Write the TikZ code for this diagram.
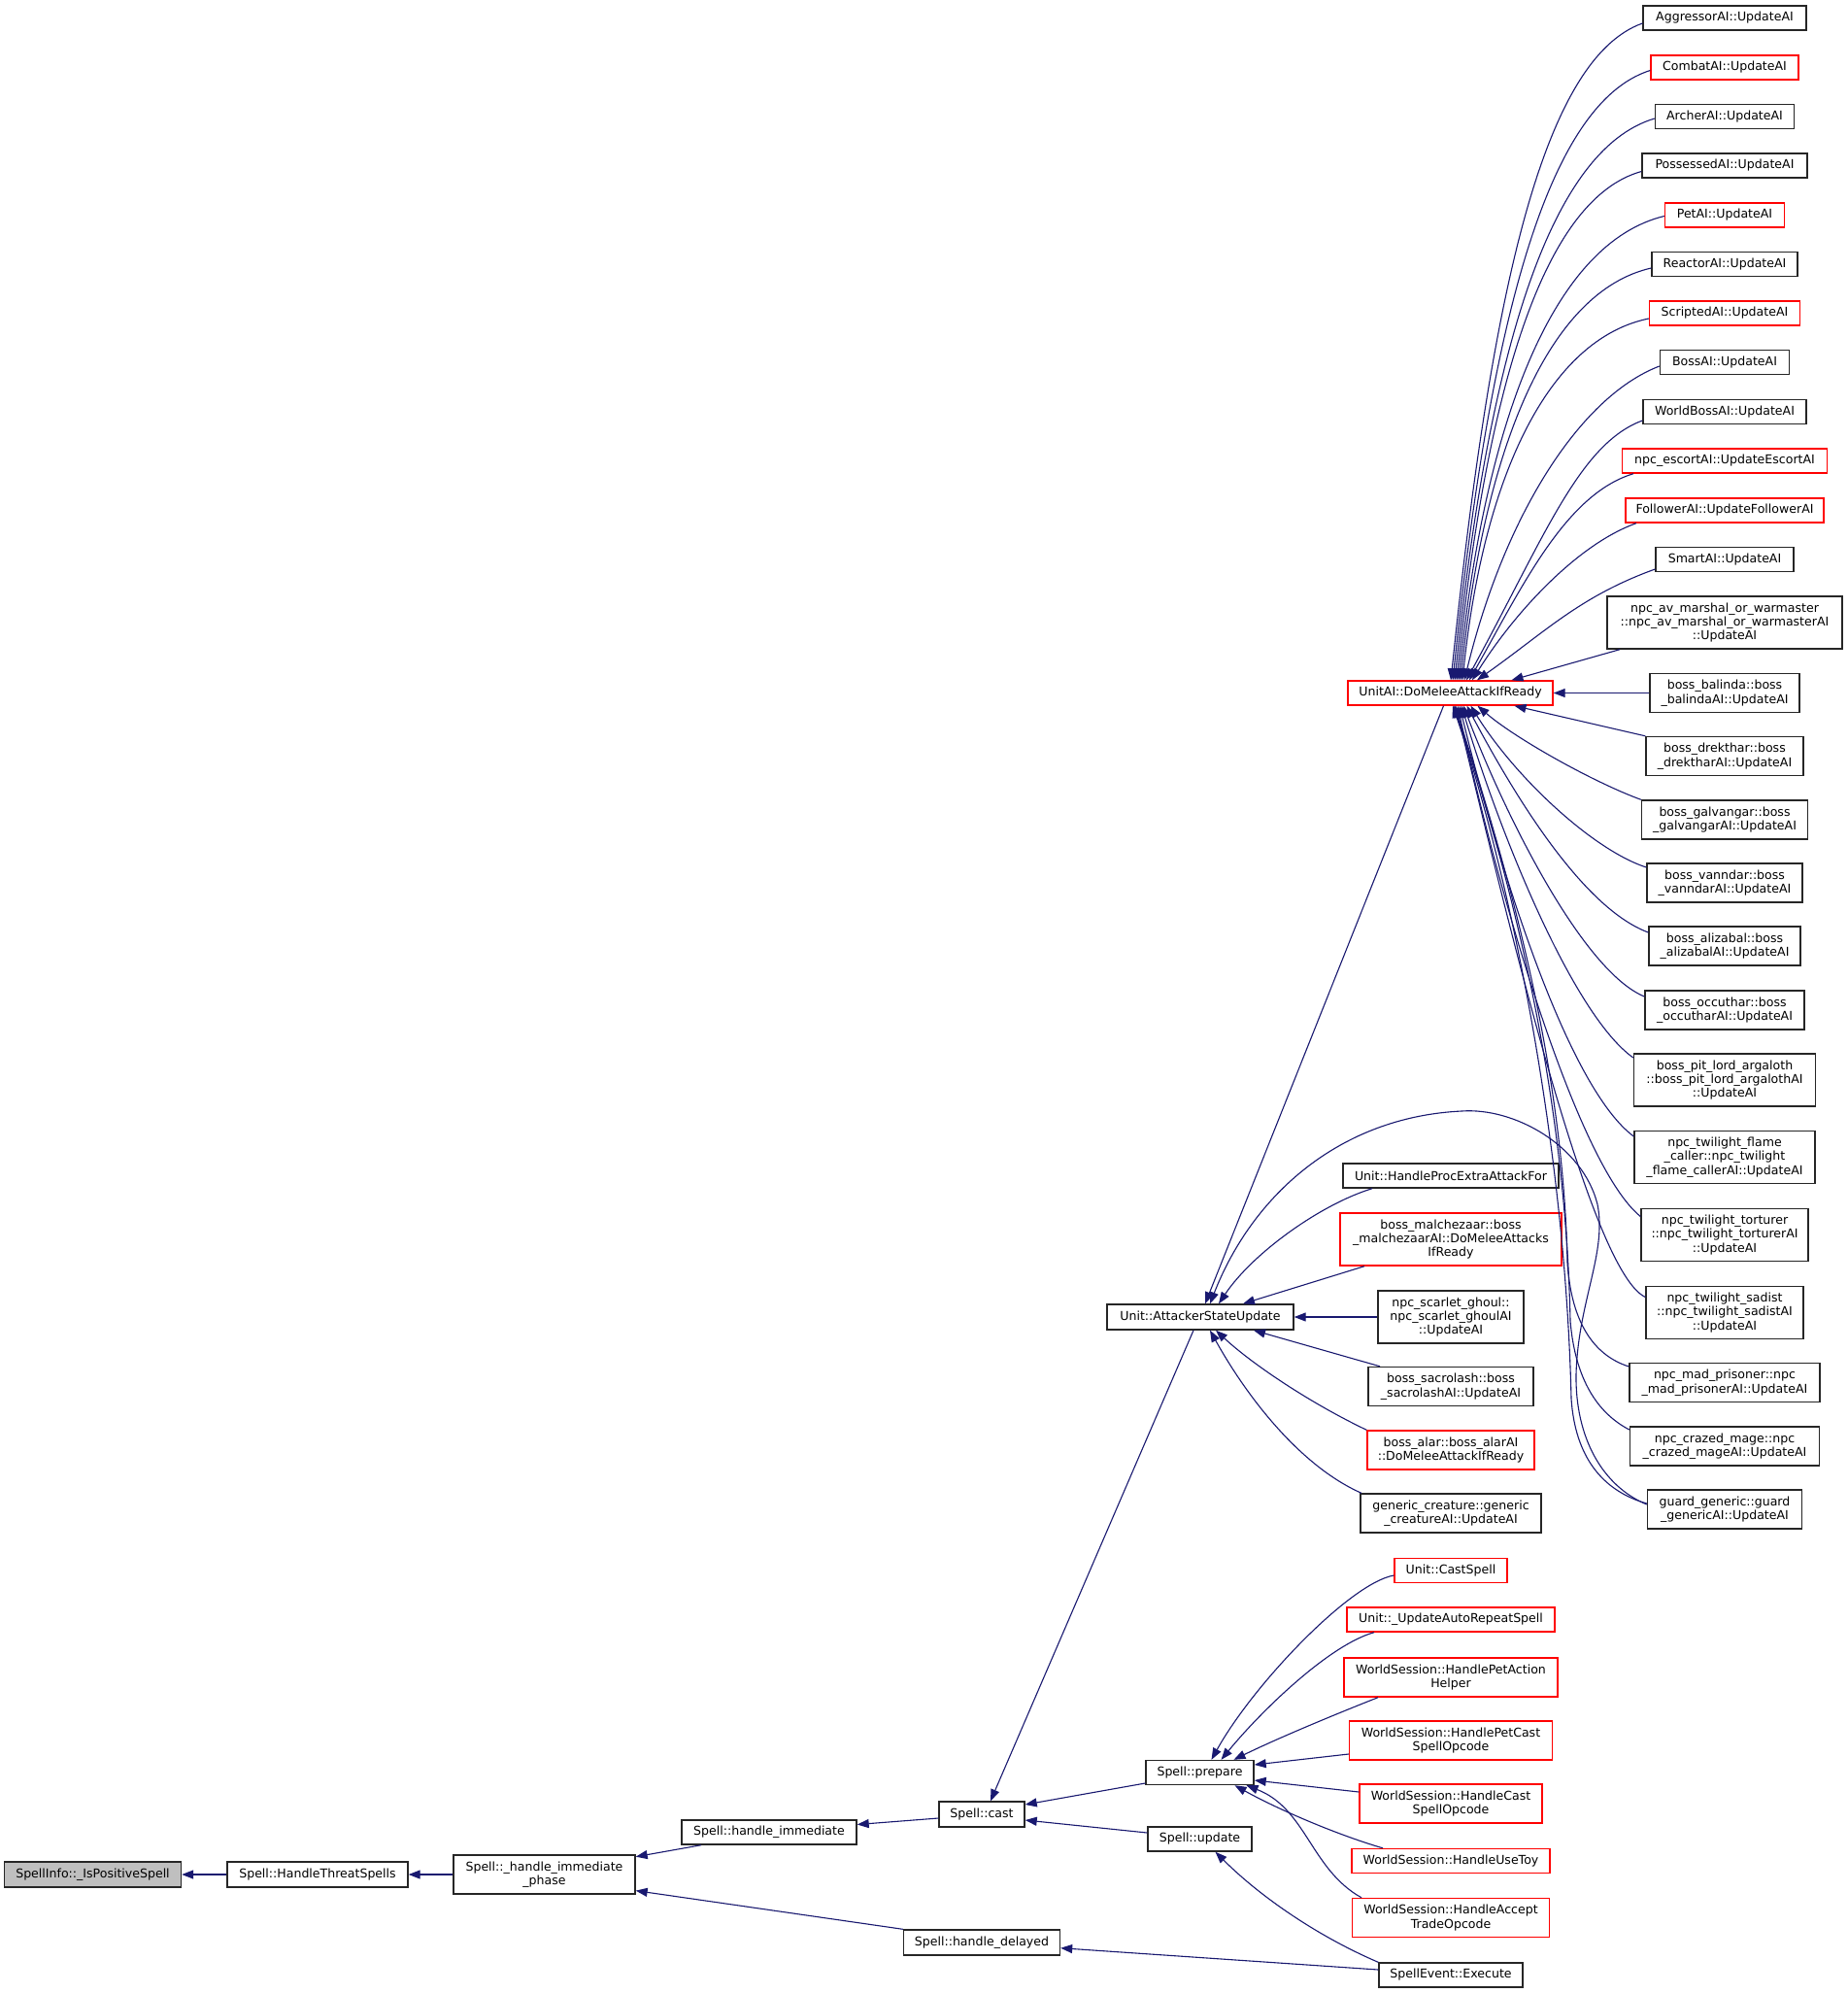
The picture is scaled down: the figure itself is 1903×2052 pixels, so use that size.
\documentclass[tikz,border=0pt]{standalone}
\usepackage{fontspec}
\setmainfont{DejaVu Sans}
\usetikzlibrary{arrows.meta}
\definecolor{edgeblue}{RGB}{25,25,112}
\definecolor{boxgray}{RGB}{191,191,191}
\tikzset{
  box/.style={draw=black!85, line width=1.4bp, rectangle, inner sep=0pt, align=center,
    font=\fontsize{12.6}{14.5}\selectfont, text=black},
  rbox/.style={box, draw=red},
  sz/.style 2 args={minimum width=#1bp, minimum height=#2bp},
  edge/.style={draw=edgeblue, line width=1.1bp, -{Triangle[length=12bp,width=9bp]}},
}
\begin{document}
\begin{tikzpicture}[x=1bp,y=-1bp]
\useasboundingbox (0,0) rectangle (1903,2052);
\fill[white] (0,0) rectangle (1903,2052);

% ---- right column: callers of UnitAI::DoMeleeAttackIfReady
\node[box, sz={168}{25}] (agg) at (1776,18.5) {AggressorAI::UpdateAI};
\node[rbox, sz={152}{25}] (comb) at (1776,69.5) {CombatAI::UpdateAI};
\node[box, sz={143}{25}] (arch) at (1776,120) {ArcherAI::UpdateAI};
\node[box, sz={170}{25}] (poss) at (1776,170.5) {PossessedAI::UpdateAI};
\node[rbox, sz={123}{25}] (pet) at (1776,221.5) {PetAI::UpdateAI};
\node[box, sz={150}{25}] (react) at (1776,272) {ReactorAI::UpdateAI};
\node[rbox, sz={155}{25}] (script) at (1776,322.5) {ScriptedAI::UpdateAI};
\node[box, sz={133}{25}] (boss) at (1776,373) {BossAI::UpdateAI};
\node[box, sz={168}{25}] (wboss) at (1776,424) {WorldBossAI::UpdateAI};
\node[rbox, sz={211}{25}] (escort) at (1776,474.5) {npc\_escortAI::UpdateEscortAI};
\node[rbox, sz={204}{25}] (follow) at (1776,525.5) {FollowerAI::UpdateFollowerAI};
\node[box, sz={142}{25}] (smart) at (1776,576) {SmartAI::UpdateAI};
\node[box, sz={242}{54}] (avm) at (1776,641) {npc\_av\_marshal\_or\_warmaster\\::npc\_av\_marshal\_or\_warmasterAI\\::UpdateAI};
\node[box, sz={154}{40}] (balinda) at (1776,713.5) {boss\_balinda::boss\\\_balindaAI::UpdateAI};
\node[box, sz={162}{40}] (drek) at (1776,778.5) {boss\_drekthar::boss\\\_drektharAI::UpdateAI};
\node[box, sz={171}{40}] (galv) at (1776,844) {boss\_galvangar::boss\\\_galvangarAI::UpdateAI};
\node[box, sz={160}{40}] (vann) at (1776,909) {boss\_vanndar::boss\\\_vanndarAI::UpdateAI};
\node[box, sz={156}{40}] (aliz) at (1776,974) {boss\_alizabal::boss\\\_alizabalAI::UpdateAI};
\node[box, sz={164}{40}] (occ) at (1776,1040) {boss\_occuthar::boss\\\_occutharAI::UpdateAI};
\node[box, sz={187}{54}] (pit) at (1776,1112) {boss\_pit\_lord\_argaloth\\::boss\_pit\_lord\_argalothAI\\::UpdateAI};
\node[box, sz={186}{54}] (flame) at (1776,1191.5) {npc\_twilight\_flame\\\_caller::npc\_twilight\\\_flame\_callerAI::UpdateAI};
\node[box, sz={172}{54}] (tort) at (1776,1271.5) {npc\_twilight\_torturer\\::npc\_twilight\_torturerAI\\::UpdateAI};
\node[box, sz={162}{54}] (sadist) at (1776,1351.5) {npc\_twilight\_sadist\\::npc\_twilight\_sadistAI\\::UpdateAI};
\node[box, sz={196}{40}] (madp) at (1776,1423.5) {npc\_mad\_prisoner::npc\\\_mad\_prisonerAI::UpdateAI};
\node[box, sz={195}{40}] (crazed) at (1776,1489) {npc\_crazed\_mage::npc\\\_crazed\_mageAI::UpdateAI};
\node[box, sz={159}{40}] (guard) at (1776,1554) {guard\_generic::guard\\\_genericAI::UpdateAI};

% ---- middle column
\node[rbox, sz={211}{25}] (unitai) at (1493.5,713.5) {UnitAI::DoMeleeAttackIfReady};
\node[box, sz={222}{25}] (proc) at (1494,1210.5) {Unit::HandleProcExtraAttackFor};
\node[rbox, sz={228}{54}] (malch) at (1494,1276) {boss\_malchezaar::boss\\\_malchezaarAI::DoMeleeAttacks\\IfReady};
\node[box, sz={150}{54}] (ghoul) at (1494,1356) {npc\_scarlet\_ghoul::\\npc\_scarlet\_ghoulAI\\::UpdateAI};
\node[box, sz={170}{40}] (sacro) at (1494,1427.5) {boss\_sacrolash::boss\\\_sacrolashAI::UpdateAI};
\node[rbox, sz={172}{40}] (alar) at (1494,1493) {boss\_alar::boss\_alarAI\\::DoMeleeAttackIfReady};
\node[box, sz={186}{40}] (gcre) at (1494,1558) {generic\_creature::generic\\\_creatureAI::UpdateAI};

\node[rbox, sz={116}{25}] (cspell) at (1494,1617) {Unit::CastSpell};
\node[rbox, sz={214}{25}] (arep) at (1494,1667.5) {Unit::\_UpdateAutoRepeatSpell};
\node[rbox, sz={220}{40}] (pah) at (1494,1727) {WorldSession::HandlePetAction\\Helper};
\node[rbox, sz={209}{40}] (pcast) at (1494,1792) {WorldSession::HandlePetCast\\SpellOpcode};
\node[rbox, sz={188}{40}] (csop) at (1494,1857) {WorldSession::HandleCast\\SpellOpcode};
\node[rbox, sz={204}{25}] (toy) at (1494,1916) {WorldSession::HandleUseToy};
\node[rbox, sz={203}{40}] (acc) at (1494,1974.5) {WorldSession::HandleAccept\\TradeOpcode};
\node[box, sz={148}{25}] (sevt) at (1494,2033.5) {SpellEvent::Execute};

% ---- left part
\node[box, sz={192}{26}] (asu) at (1236,1356) {Unit::AttackerStateUpdate};
\node[box, sz={111}{25}] (prep) at (1235.5,1825) {Spell::prepare};
\node[box, sz={107}{25}] (upd) at (1235.5,1893.5) {Spell::update};
\node[box, sz={88}{26}] (cast) at (1011,1868) {Spell::cast};
\node[box, sz={180}{25}] (himm) at (792,1886.5) {Spell::handle\_immediate};
\node[box, sz={161}{26}] (hdel) at (1011,2000) {Spell::handle\_delayed};
\node[box, sz={187}{40}] (phase) at (560.5,1930) {Spell::\_handle\_immediate\\\_phase};
\node[box, sz={186}{26}] (threat) at (327,1930) {Spell::HandleThreatSpells};
\node[box, sz={182}{26}, fill=boxgray] (sinfo) at (95.5,1930) {SpellInfo::\_IsPositiveSpell};

% ---- edges: bottom-left chain
\draw[edge] (threat.west) -- (sinfo.east);
\draw[edge] (phase.west) -- (threat.east);
\draw[edge] ([xshift=-70bp]himm.south) -- (phase.11);
\draw[edge] (hdel.north west) -- (phase.-10);
\draw[edge] ([yshift=-4bp]cast.west) -- ([yshift=8bp]himm.east);
\draw[edge] ([yshift=-11bp]prep.west) -- ([yshift=10bp]cast.east);
\draw[edge] ([yshift=6.5bp]upd.west) -- ([yshift=-6bp]cast.east);
\draw[edge] ([xshift=-7bp]asu.south) -- ([xshift=9bp]cast.north);
\draw[edge] ([yshift=5.5bp]sevt.west) -- ([yshift=-5.7bp]hdel.east);
\draw[edge] (sevt.north west) .. controls (1360,1995) and (1300,1955) .. ([xshift=16bp]upd.south);

% ---- callers of Spell::prepare
\draw[edge] ([yshift=-5bp]cspell.west) .. controls (1390,1630) and (1290,1735) .. ([xshift=12bp]prep.north);
\draw[edge] ([xshift=-79bp]arep.south) .. controls (1370,1693) and (1300,1760) .. ([xshift=22bp]prep.north);
\draw[edge] ([xshift=-75bp]pah.south) .. controls (1375,1765) and (1315,1790) .. ([xshift=35bp]prep.north);
\draw[edge] ([yshift=-14bp]pcast.west) -- ([yshift=8bp]prep.east);
\draw[edge] ([yshift=12bp]csop.west) -- ([yshift=-8bp]prep.east);
\draw[edge] ([xshift=-70bp]toy.north) .. controls (1380,1890) and (1320,1865) .. ([xshift=36bp]prep.south);
\draw[edge] ([xshift=-92bp]acc.north) .. controls (1350,1925) and (1345,1862) .. ([xshift=48bp]prep.south);

% ---- callers of Unit::AttackerStateUpdate
\draw[edge] ([xshift=-7bp]unitai.south) -- ([xshift=5bp]asu.north);
\draw[edge] ([yshift=5bp]guard.west) .. controls (1650,1530) and (1622,1480) .. (1623,1415)
  .. controls (1625,1340) and (1655,1290) .. (1645,1240)
  .. controls (1630,1180) and (1560,1140) .. (1505,1144)
  .. controls (1380,1150) and (1290,1230) .. ([xshift=10bp]asu.north);
\draw[edge] ([xshift=-81bp]proc.south) .. controls (1360,1240) and (1290,1290) .. ([xshift=19bp]asu.north);
\draw[edge] ([xshift=-89bp]malch.south) -- ([xshift=44bp]asu.north);
\draw[edge] (ghoul.west) -- (asu.east);
\draw[edge] ([xshift=-73bp]sacro.north) -- ([xshift=55bp]asu.south);
\draw[edge] (alar.north west) .. controls (1350,1445) and (1290,1405) .. ([xshift=16bp]asu.south);
\draw[edge] ([xshift=-92bp]gcre.north) .. controls (1340,1510) and (1285,1440) .. ([xshift=10bp]asu.south);

% ---- callers of UnitAI::DoMeleeAttackIfReady (above)
\draw[edge] ([yshift=-5.5bp]agg.west) .. controls (1585,62) and (1534,318) .. ([xshift=0.5bp]unitai.north);
\draw[edge] ([yshift=-3bp]comb.west) .. controls (1590,107) and (1533,345) .. ([xshift=2.5bp]unitai.north);
\draw[edge] ([yshift=-2bp]arch.west) .. controls (1593,155) and (1532,373) .. ([xshift=4.5bp]unitai.north);
\draw[edge] ([yshift=-6bp]poss.west) .. controls (1588,205) and (1531,403) .. ([xshift=6.5bp]unitai.north);
\draw[edge] ([yshift=-1bp]pet.west) .. controls (1600,250) and (1530,430) .. ([xshift=8.5bp]unitai.north);
\draw[edge] ([yshift=-4bp]react.west) .. controls (1595,300) and (1529,459) .. ([xshift=10.5bp]unitai.north);
\draw[edge] ([yshift=-5.5bp]script.west) .. controls (1595,349) and (1528,489) .. ([xshift=12.5bp]unitai.north);
\draw[edge] ([yshift=-4bp]boss.west) .. controls (1625,409) and (1548,535) .. ([xshift=14.5bp]unitai.north);
\draw[edge] ([yshift=-9bp]wboss.west) .. controls (1626,457) and (1590,554) .. ([xshift=16.5bp]unitai.north);
\draw[edge] ([xshift=-94bp]escort.south) .. controls (1612,509) and (1568,603) .. ([xshift=19.5bp]unitai.north);
\draw[edge] ([xshift=-91bp]follow.south) .. controls (1625,560) and (1560,630) .. ([xshift=22.5bp]unitai.north);
\draw[edge] ([yshift=-10bp]smart.west) .. controls (1627,614) and (1592,650) .. ([xshift=27.5bp]unitai.north);
\draw[edge] ([xshift=-108bp]avm.south) -- ([xshift=63bp]unitai.north);

% ---- callers of UnitAI::DoMeleeAttackIfReady (below)
\draw[edge] (balinda.west) -- (unitai.east);
\draw[edge] (drek.north west) -- ([xshift=66bp]unitai.south);
\draw[edge] (galv.north west) .. controls (1640,805) and (1560,760) .. ([xshift=28bp]unitai.south);
\draw[edge] ([yshift=16bp]vann.west) .. controls (1640,875) and (1560,800) .. ([xshift=21bp]unitai.south);
\draw[edge] ([yshift=14bp]aliz.west) .. controls (1630,935) and (1560,820) .. ([xshift=17bp]unitai.south);
\draw[edge] ([yshift=14bp]occ.west) .. controls (1630,1000) and (1550,840) .. ([xshift=13.5bp]unitai.south);
\draw[edge] ([yshift=23bp]pit.west) .. controls (1620,1045) and (1545,860) .. ([xshift=11.5bp]unitai.south);
\draw[edge] ([yshift=21.5bp]flame.west) .. controls (1615,1120) and (1545,900) .. ([xshift=9.5bp]unitai.south);
\draw[edge] ([yshift=19bp]tort.west) .. controls (1625,1200) and (1545,930) .. ([xshift=7.5bp]unitai.south);
\draw[edge] ([yshift=16bp]sadist.west) .. controls (1640,1310) and (1560,980) .. ([xshift=5.5bp]unitai.south);
\draw[edge] ([yshift=16.5bp]madp.west) .. controls (1640,1395) and (1618,1360) .. (1614,1300)
  .. controls (1610,1100) and (1555,900) .. ([xshift=4.5bp]unitai.south);
\draw[edge] ([yshift=17bp]crazed.west) .. controls (1645,1455) and (1622,1420) .. (1617,1360)
  .. controls (1612,1120) and (1555,900) .. ([xshift=3.5bp]unitai.south);
\draw[edge] ([yshift=6bp]guard.west) .. controls (1650,1535) and (1622,1500) .. (1618,1440)
  .. controls (1612,1180) and (1555,900) .. ([xshift=2.5bp]unitai.south);
\end{tikzpicture}
\end{document}
